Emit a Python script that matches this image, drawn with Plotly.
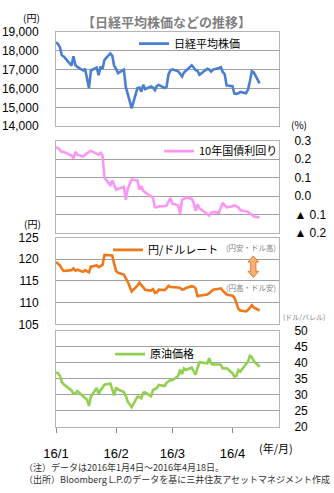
import plotly.graph_objects as go

# ---------------- data ----------------
dates = [
    "2016-01-04", "2016-01-05", "2016-01-06", "2016-01-07", "2016-01-08", "2016-01-12", "2016-01-13",
    "2016-01-14", "2016-01-15", "2016-01-18", "2016-01-19", "2016-01-20", "2016-01-21", "2016-01-22",
    "2016-01-25", "2016-01-26", "2016-01-27", "2016-01-28", "2016-01-29",
    "2016-02-01", "2016-02-02", "2016-02-03", "2016-02-04", "2016-02-05", "2016-02-08", "2016-02-09",
    "2016-02-10", "2016-02-12", "2016-02-15", "2016-02-16", "2016-02-17", "2016-02-18", "2016-02-19",
    "2016-02-22", "2016-02-23", "2016-02-24", "2016-02-25", "2016-02-26", "2016-02-29",
    "2016-03-01", "2016-03-02", "2016-03-03", "2016-03-04", "2016-03-07", "2016-03-08", "2016-03-09",
    "2016-03-10", "2016-03-11", "2016-03-14", "2016-03-15", "2016-03-16", "2016-03-17", "2016-03-18",
    "2016-03-22", "2016-03-23", "2016-03-24", "2016-03-25", "2016-03-28", "2016-03-29", "2016-03-30",
    "2016-03-31",
    "2016-04-01", "2016-04-04", "2016-04-05", "2016-04-06", "2016-04-07", "2016-04-08", "2016-04-11",
    "2016-04-12", "2016-04-13", "2016-04-14", "2016-04-15", "2016-04-18",
]

nikkei = [
    18450, 18374, 18191, 17767, 17698, 17218, 17715, 17240, 17147, 16956, 17048, 16416, 16017, 16958,
    17110, 16708, 17163, 17041, 17518,
    17865, 17750, 17191, 17044, 16819, 17004, 16085, 15713, 14952, 16022, 16054, 15836, 16196, 15967,
    16111, 16052, 15915, 16140, 16188, 16027,
    16085, 16747, 16960, 17015, 16911, 16784, 16642, 16852, 16939, 17233, 17117, 16975, 16937, 16725,
    17049, 17001, 16892, 17003, 17092, 17135, 16879, 16759,
    16164, 16123, 15733, 15715, 15749, 15822, 15751, 15928, 16381, 16911, 16848, 16275,
]

jgb10y = [
    0.265, 0.26, 0.25, 0.24, 0.24, 0.22, 0.205, 0.24, 0.225, 0.215, 0.225, 0.235, 0.24, 0.245,
    0.23, 0.225, 0.235, 0.22, 0.10,
    0.06, 0.085, 0.06, 0.035, 0.04, 0.05, -0.02, 0.04, 0.09, 0.085, 0.035, 0.055, 0.03, 0.02,
    0.0, -0.01, -0.06, -0.06, -0.055, -0.055,
    -0.05, -0.03, -0.01, -0.04, -0.05, -0.095, -0.02, -0.015, -0.005, -0.015, -0.035, -0.08, -0.045, -0.065,
    -0.10, -0.105, -0.09, -0.085, -0.09, -0.06, -0.035, -0.05,
    -0.06, -0.055, -0.05, -0.055, -0.06, -0.075, -0.08, -0.085, -0.095, -0.10, -0.11, -0.115,
]

usdjpy = [
    119.4, 119.0, 118.6, 117.8, 117.3, 117.5, 117.9, 117.4, 117.6, 117.1, 117.5, 117.2, 117.0, 118.3,
    118.6, 118.2, 118.4, 118.7, 121.0,
    121.0, 120.9, 119.0, 117.3, 116.9, 116.5, 115.6, 114.8, 112.6, 113.9, 114.6, 114.0, 113.6, 113.0,
    112.8, 113.1, 112.3, 112.4, 113.0, 112.9,
    113.3, 113.9, 113.6, 113.6, 113.5, 113.4, 113.0, 113.1, 113.4, 113.8, 113.7, 113.3, 111.5, 111.6,
    111.9, 112.2, 112.6, 113.0, 113.2, 113.3, 112.8, 112.4,
    111.9, 111.6, 111.2, 110.0, 108.6, 108.2, 108.0, 108.3, 109.0, 109.4, 108.9, 108.2,
]

oil = [
    37.0, 36.8, 36.0, 34.0, 33.3, 31.4, 30.4, 30.5, 31.2, 29.4, 28.9, 28.5, 26.6, 29.5,
    32.2, 30.3, 31.5, 32.3, 33.2,
    33.6, 31.6, 29.9, 32.3, 31.7, 30.9, 29.7, 27.9, 26.2, 29.4, 29.4, 29.0, 30.7, 30.8,
    29.6, 31.5, 31.9, 32.2, 33.1, 32.8,
    33.8, 34.4, 34.7, 34.6, 35.9, 37.9, 36.5, 38.3, 37.8, 38.5, 37.2, 36.3, 38.5, 40.2,
    39.9, 41.5, 39.8, 39.5, 39.5, 39.4, 38.3, 38.3,
    38.3, 36.8, 35.7, 35.9, 37.8, 37.3, 39.7, 40.4, 42.2, 41.8, 40.5, 38.8,
]

jgb_tickvals = [-0.2, -0.1, 0.0, 0.1, 0.2, 0.3]
jgb_ticktext = ["▲ 0.2", "▲ 0.1", "0.0", "0.1", "0.2", "0.3"]

series_names = ["日経平均株価", "10年国債利回り", "円/ドルレート", "原油価格"]

# ---------------- layout helpers ----------------
W, H = 334, 493
L, R = 56, 279


def px(x):
    return (x - L) / (R - L)


def py(y):
    return 1 - y / H


JP = "Noto Sans CJK JP"
NUM = "Liberation Sans, Noto Sans CJK JP"
GRID = "#a0a0a0"
FRAME = "#b4b4b4"

colors = ["#4a7fd0", "#fa96f5", "#ef7818", "#92d050"]
values = [nikkei, jgb10y, usdjpy, oil]

fig = go.Figure()
for i, (name, vals, col) in enumerate(zip(series_names, values, colors)):
    n = "" if i == 0 else str(i + 1)
    fig.add_trace(go.Scatter(
        x=dates, y=vals, mode="lines", name=name,
        line=dict(color=col, width=2.6),
        xaxis="x" + n, yaxis="y" + n,
        legend="legend" + n,
        hoverinfo="skip",
    ))

x_range = ["2016-01-04", "2016-04-28"]
domains = [
    [py(122.7), py(25.7)],
    [py(232.7), py(137.7)],
    [py(326.7), py(237.3)],
    [py(432.3), py(333.3)],
]

layout = dict(
    width=W, height=H,
    margin=dict(l=L, r=W - R, t=0, b=0),
    paper_bgcolor="white", plot_bgcolor="white",
    showlegend=True,
    font=dict(family=JP, size=11, color="#000"),
)

for i in range(4):
    n = "" if i == 0 else str(i + 1)
    bottom = i == 3
    layout["xaxis" + n] = dict(
        type="date", range=x_range, domain=[0, 1], anchor="y" + n,
        showgrid=False, showline=True, mirror=True, linecolor=FRAME, linewidth=1,
        zeroline=False,
        showticklabels=bottom,
        tick0="2016-01-04", dtick="M1", tickformat="%y/%-m",
        ticks="outside" if bottom else "", ticklen=5, tickcolor="#8c8c8c",
        ticklabelstandoff=9,
        tickfont=dict(family=NUM, size=13, color="#000"),
        **({} if i == 0 else {"matches": "x"}),
    )

common_y = dict(showgrid=True, gridcolor=GRID, gridwidth=1.4, zeroline=False,
                showline=True, mirror=True, linecolor=FRAME, linewidth=1,
                ticks="", tickfont=dict(family=NUM, size=12, color="#000"))

layout["yaxis"] = dict(domain=domains[0], anchor="x", range=[14000, 19000], dtick=1000,
                       tickformat=",d", side="left", ticklabelstandoff=14, **common_y)
layout["yaxis2"] = dict(domain=domains[1], anchor="x2", range=[-0.2, 0.3],
                        tickvals=jgb_tickvals, ticktext=jgb_ticktext,
                        side="right", ticklabelstandoff=12, **common_y)
layout["yaxis3"] = dict(domain=domains[2], anchor="x3", range=[105, 125], dtick=5,
                        side="left", ticklabelstandoff=14, **common_y)
layout["yaxis4"] = dict(domain=domains[3], anchor="x4", range=[20, 50], dtick=5,
                        side="right", ticklabelstandoff=12, **common_y)

# legends placed inside each panel
leg_pos = [(134, 37.7), (159, 148.3), (108, 250), (110, 357.3)]
for i, (lx, ly) in enumerate(leg_pos):
    n = "" if i == 0 else str(i + 1)
    layout["legend" + n] = dict(
        x=px(lx), y=py(ly), xanchor="left", yanchor="middle",
        bgcolor="rgba(0,0,0,0)", borderwidth=0, itemwidth=30,
        font=dict(family=JP, size=11, color="#000"),
        itemclick=False, itemdoubleclick=False,
    )

fig.update_layout(**layout)


def note(text, x, y, size, color="#000", xanchor="center", bold=False, align="center"):
    fig.add_annotation(
        text=f"<b>{text}</b>" if bold else text,
        x=px(x), y=py(y), xref="paper", yref="paper",
        xanchor=xanchor, yanchor="middle", showarrow=False, align=align,
        font=dict(family=JP, size=size, color=color),
    )


note("【日経平均株価などの推移】", 166, 15, 13, color="#7f7f7f", bold=True)
note("(円)", 31, 10.5, 10)
note("(%)", 299, 120.7, 10)
note("(円)", 32, 223, 10)
note("(ドル/バレル)", 304, 319.3, 7, color="#808080")
note("(円安・ドル高)", 278, 247.3, 7.5, color="#7f7f7f", xanchor="right")
note("(円高・ドル安)", 278, 288.7, 7.5, color="#7f7f7f", xanchor="right")
note("(年/月)", 276, 453.5, 11)
note("（注）データは2016年1月4日～2016年4月18日。<br>"
     "（出所）Bloomberg L.P.のデータを基に三井住友アセットマネジメント作成",
     22, 480, 9, color="#333333", xanchor="left", align="left")

# double-headed orange arrow (decoration)
cx, top, bot = 253.3, 256.3, 278.3
hw, sw, hh = 5.3, 2.6, 6.2
pts = [
    (cx, top), (cx + hw, top + hh), (cx + sw, top + hh), (cx + sw, bot - hh), (cx + hw, bot - hh),
    (cx, bot), (cx - hw, bot - hh), (cx - sw, bot - hh), (cx - sw, top + hh), (cx - hw, top + hh),
]
path = "M " + " L ".join(f"{px(a):.5f},{py(b):.5f}" for a, b in pts) + " Z"
fig.add_shape(type="path", path=path, xref="paper", yref="paper",
              fillcolor="#f6b27a", line=dict(color="#e57a2a", width=1))

fig.write_html("out.html")
